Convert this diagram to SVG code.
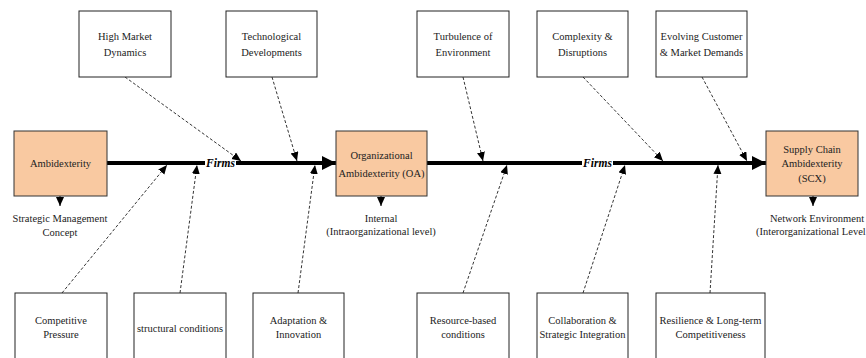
<svg xmlns="http://www.w3.org/2000/svg" width="866" height="358" viewBox="0 0 866 358">
<style>
text{font-family:"Liberation Serif","Times New Roman",serif;font-size:10.5px;fill:#222;text-anchor:middle}
.box{fill:#fff;stroke:#222;stroke-width:1}
.obox{fill:#F9C9A1;stroke:#333;stroke-width:1}
.main{stroke:#000;stroke-width:4;fill:none}
.dash{stroke:#000;stroke-width:0.8;stroke-dasharray:3 2;fill:none}
.solid{stroke:#000;stroke-width:1;fill:none}
.firms{font-weight:bold;font-style:italic;font-size:11.5px;fill:#000}
</style>
<defs>
<marker id="big" markerUnits="userSpaceOnUse" markerWidth="16" markerHeight="16" refX="14" refY="8" orient="auto"><path d="M0,1 L14,8 L0,15 Z" fill="#000"/></marker>
<marker id="small" markerUnits="userSpaceOnUse" markerWidth="10" markerHeight="10" refX="9" refY="4" orient="auto"><path d="M0,0 L9,4 L0,8 Z" fill="#000"/></marker>
</defs>
<rect width="866" height="358" fill="#fff"/>
<g id="connectors">
<line class="main" x1="107" y1="163" x2="336" y2="163" marker-end="url(#big)"/>
<line class="main" x1="427" y1="163" x2="766" y2="163" marker-end="url(#big)"/>
<rect x="205" y="156" width="31" height="14" fill="#fff"/>
<text class="firms" x="220.5" y="167">Firms</text>
<rect x="582" y="156" width="31" height="14" fill="#fff"/>
<text class="firms" x="597.5" y="167">Firms</text>
<line class="dash" x1="125" y1="77" x2="241" y2="161" marker-end="url(#small)"/>
<line class="dash" x1="272" y1="77" x2="297" y2="161" marker-end="url(#small)"/>
<line class="dash" x1="463" y1="77" x2="483" y2="161" marker-end="url(#small)"/>
<line class="dash" x1="583" y1="77" x2="663" y2="161" marker-end="url(#small)"/>
<line class="dash" x1="702" y1="77" x2="747" y2="161" marker-end="url(#small)"/>
<line class="dash" x1="62" y1="293" x2="167" y2="165" marker-end="url(#small)"/>
<line class="dash" x1="180" y1="293" x2="197" y2="165" marker-end="url(#small)"/>
<line class="dash" x1="298" y1="293" x2="315" y2="165" marker-end="url(#small)"/>
<line class="dash" x1="463" y1="293" x2="507" y2="165" marker-end="url(#small)"/>
<line class="dash" x1="583" y1="293" x2="625" y2="165" marker-end="url(#small)"/>
<line class="dash" x1="710" y1="293" x2="718" y2="165" marker-end="url(#small)"/>
<line class="solid" x1="60" y1="196" x2="60" y2="206" marker-end="url(#small)"/>
<line class="solid" x1="381" y1="196" x2="381" y2="206" marker-end="url(#small)"/>
<line class="solid" x1="813" y1="196" x2="813" y2="206" marker-end="url(#small)"/>
</g>
<g id="n-hmd"><rect class="box" x="79" y="11" width="92" height="66"/><text x="125" y="40">High Market</text><text x="125" y="55.5">Dynamics</text></g>
<g id="n-tech"><rect class="box" x="226" y="11" width="91" height="66"/><text x="271.5" y="40">Technological</text><text x="271.5" y="55.5">Developments</text></g>
<g id="n-turb"><rect class="box" x="417" y="11" width="92" height="66"/><text x="463" y="40">Turbulence of</text><text x="463" y="55.5">Environment</text></g>
<g id="n-comp"><rect class="box" x="537" y="11" width="91" height="66"/><text x="582.5" y="40">Complexity &amp;</text><text x="582.5" y="55.5">Disruptions</text></g>
<g id="n-evol"><rect class="box" x="656" y="11" width="91" height="66"/><text x="701.5" y="40">Evolving Customer</text><text x="701.5" y="55.5">&amp; Market Demands</text></g>
<g id="n-amb"><rect class="obox" x="14" y="131" width="93" height="65"/><text x="60.5" y="167">Ambidexterity</text></g>
<g id="n-oa"><rect class="obox" x="336" y="131" width="91" height="65"/><text x="381.5" y="159">Organizational</text><text x="381.5" y="177">Ambidexterity (OA)</text></g>
<g id="n-scx"><rect class="obox" x="766" y="131" width="92" height="65"/><text x="812" y="153">Supply Chain</text><text x="812" y="167">Ambidexterity</text><text x="812" y="182">(SCX)</text></g>
<g id="l-amb"><text x="60" y="222">Strategic Management</text><text x="60" y="236">Concept</text></g>
<g id="l-oa"><text x="381" y="222">Internal</text><text x="381" y="235">(Intraorganizational level)</text></g>
<g id="l-scx"><text x="817" y="222">Network Environment</text><text x="756" y="235" style="text-anchor:start">(Interorganizational Level</text></g>
<g id="n-cp"><rect class="box" x="15" y="293" width="92" height="70"/><text x="61" y="324">Competitive</text><text x="61" y="338">Pressure</text></g>
<g id="n-sc"><rect class="box" x="134" y="293" width="92" height="70"/><text x="180" y="332">structural conditions</text></g>
<g id="n-ai"><rect class="box" x="253" y="293" width="91" height="70"/><text x="298.5" y="324">Adaptation &amp;</text><text x="298.5" y="338">Innovation</text></g>
<g id="n-rb"><rect class="box" x="417" y="293" width="92" height="70"/><text x="463" y="324">Resource-based</text><text x="463" y="338">conditions</text></g>
<g id="n-csi"><rect class="box" x="537" y="293" width="91" height="70"/><text x="582.5" y="324">Collaboration &amp;</text><text x="582.5" y="338">Strategic Integration</text></g>
<g id="n-res"><rect class="box" x="656" y="293" width="109" height="70"/><text x="710.5" y="324">Resilience &amp; Long-term</text><text x="710.5" y="338">Competitiveness</text></g>
</svg>
